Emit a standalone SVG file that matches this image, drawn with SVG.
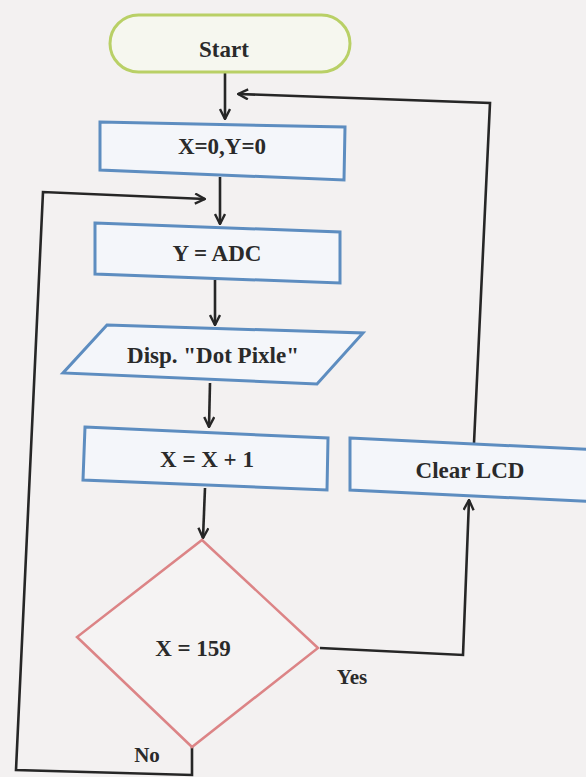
<svg xmlns="http://www.w3.org/2000/svg" width="586" height="777" viewBox="0 0 586 777">
<style>
.bg{fill:#f3f1f1}
.term{fill:#f6f7ef;stroke:#b9d066;stroke-width:3}
.proc{fill:#f4f6fa;stroke:#5d8dc0;stroke-width:3}
.dec{fill:#f5f3f3;stroke:#dc8486;stroke-width:2.5}
.lbl{font-family:"Liberation Serif","Times New Roman",serif;font-weight:bold;font-size:23px;fill:#2a2a2a;text-anchor:middle}
.sm{font-size:21px}
.conn{fill:none;stroke:#262626;stroke-width:2.6;stroke-linejoin:miter}
</style>
<defs>
<marker id="arr" viewBox="0 0 12 12" refX="11" refY="6" markerWidth="12" markerHeight="12" markerUnits="userSpaceOnUse" orient="auto">
<path d="M1,1 L11,6 L1,11" fill="none" stroke="#262626" stroke-width="2.4"/>
</marker>
</defs>
<rect class="bg" x="0" y="0" width="586" height="777"/>

<g id="connectors">
<polyline class="conn" points="225,72 225,119" marker-end="url(#arr)"/>
<polyline class="conn" points="220,177 220,224" marker-end="url(#arr)"/>
<polyline class="conn" points="215,280 215,325" marker-end="url(#arr)"/>
<polyline class="conn" points="210,383 209,427" marker-end="url(#arr)"/>
<polyline class="conn" points="205,488 203,538" marker-end="url(#arr)"/>
<polyline class="conn" points="320,648 463,655 469,500" marker-end="url(#arr)"/>
<polyline class="conn" points="474,443 490,103 238,94" marker-end="url(#arr)"/>
<polyline class="conn" points="192,747 192,775 16,770 43,192 205,199" marker-end="url(#arr)"/>
</g>

<g id="start">
<rect class="term" x="110" y="15" width="240" height="57" rx="28.5" ry="28.5"/>
<text class="lbl" x="224" y="57">Start</text>
</g>

<g id="init">
<polygon class="proc" points="100,122 345,127 344,180 100,170"/>
<text class="lbl" x="222" y="154">X=0,Y=0</text>
</g>

<g id="read">
<polygon class="proc" points="95,223 340,232 340,283 95,274"/>
<text class="lbl" x="217" y="261">Y = ADC</text>
</g>

<g id="display">
<polygon class="proc" points="107,325 363,333 317,384 63,373"/>
<text class="lbl" x="213" y="363">Disp. "Dot Pixle"</text>
</g>

<g id="incr">
<polygon class="proc" points="85,427 328,438 327,490 83,480"/>
<text class="lbl" x="207" y="467">X = X + 1</text>
</g>

<g id="clear">
<polygon class="proc" points="350,438 600,450 600,502 350,490"/>
<text class="lbl" x="470" y="478">Clear LCD</text>
</g>

<g id="decision">
<polygon class="dec" points="202,540 318,648 192,747 77,637"/>
<text class="lbl" x="193" y="656">X = 159</text>
<text class="lbl sm" x="352" y="684">Yes</text>
<text class="lbl sm" x="147" y="762">No</text>
</g>
</svg>
